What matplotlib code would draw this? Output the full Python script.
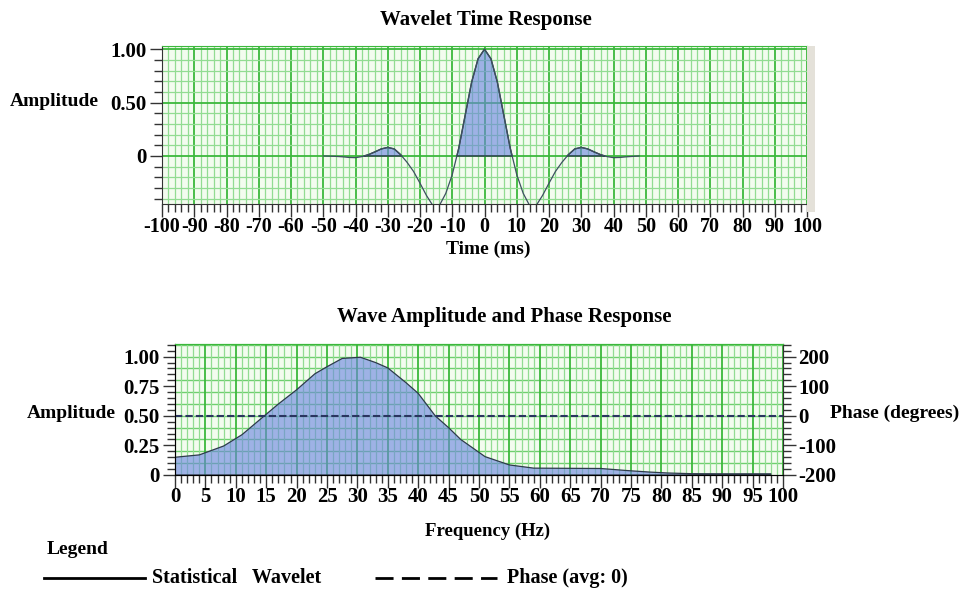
import numpy as np
import matplotlib.pyplot as plt
from matplotlib.ticker import MultipleLocator, FuncFormatter
from matplotlib.lines import Line2D
from matplotlib.patches import Rectangle

plt.rcParams['font.family'] = ['Liberation Serif', 'DejaVu Serif']
plt.rcParams['font.weight'] = 'bold'
plt.rcParams['axes.unicode_minus'] = False

# ---- wavelet time response (ms, amplitude) ----
time_ms = np.arange(-50, 50, 2)
wavelet = np.array([
    0.000, -0.002, -0.004, -0.008, -0.014, -0.016, -0.006, 0.012, 0.038, 0.066,
    0.080, 0.066, 0.012, -0.060, -0.145, -0.255, -0.370, -0.465, -0.465, -0.350,
    -0.175, 0.070, 0.380, 0.690, 0.910, 1.000, 0.910, 0.690, 0.380, 0.070,
    -0.175, -0.350, -0.465, -0.465, -0.370, -0.255, -0.145, -0.060, 0.012, 0.066,
    0.080, 0.066, 0.038, 0.012, -0.006, -0.016, -0.014, -0.008, -0.004, 0.000])

# ---- amplitude spectrum (Hz, normalised amplitude) ----
freq_hz = np.array([0, 4, 8, 11, 14, 17, 20, 23, 25, 27.5, 30.5, 33, 35, 38, 40,
                    42.8, 45, 47, 51, 55, 59, 70, 74.5, 78, 81, 85, 90, 98])
spec_amp = np.array([0.15, 0.17, 0.245, 0.34, 0.47, 0.60, 0.72, 0.855, 0.915, 0.985,
                     0.995, 0.95, 0.905, 0.78, 0.69, 0.50, 0.40, 0.30, 0.155, 0.085,
                     0.058, 0.055, 0.037, 0.025, 0.017, 0.011, 0.010, 0.010])

# ---- phase (degrees) ----
phase_freq = [0, 100]
phase_deg = [0, 0]

W, H = 963, 590
bg = '#f3fcef'
minor_c = '#92dc92'
major_c = '#3cb83c'
fill_c = (0.42, 0.52, 0.88)
edge_c = '#2e3b4a'
spine_c = '#333333'
tick_fs = 15
lab_fs = 14
title_fs = 15


def fmt_amp(v, pos):
    return '0' if abs(v) < 1e-9 else f'{v:.2f}'


def style(ax):
    ax.set_facecolor(bg)
    ax.set_axisbelow(True)
    for s in ['top', 'right']:
        ax.spines[s].set_color(major_c)
    for s in ['left', 'bottom']:
        ax.spines[s].set_color(spine_c)
    ax.tick_params(which='major', length=9, width=1, color=spine_c, labelsize=tick_fs, pad=2)
    ax.tick_params(which='minor', length=6, width=1, color=spine_c)
    ax.tick_params(axis='x', which='major', pad=0)


fig = plt.figure(figsize=(W / 100, H / 100), dpi=100)

# grey strip at the right of the top plot
fig.patches.append(Rectangle((807 / W, 1 - 212 / H), 8 / W, 166 / H,
                             transform=fig.transFigure, facecolor='#e4e1d9',
                             edgecolor='none'))

# ================= top: wavelet =================
ax1 = fig.add_axes([162 / W, 1 - 204 / H, 645 / W, 158 / H])
style(ax1)
ax1.set_xlim(-100, 100)
ax1.set_ylim(-0.45, 1.03)
ax1.xaxis.set_major_locator(MultipleLocator(10))
ax1.xaxis.set_minor_locator(MultipleLocator(2))
ax1.yaxis.set_major_locator(MultipleLocator(0.5))
ax1.yaxis.set_minor_locator(MultipleLocator(0.1))
ax1.yaxis.set_major_formatter(FuncFormatter(fmt_amp))
ax1.tick_params(axis='x', which='major', labelsize=14.5)
ax1.grid(which='minor', color=minor_c, lw=0.9)
ax1.grid(which='major', color=major_c, lw=1.3)

ax1.fill_between(time_ms, wavelet, 0, where=wavelet > 0, interpolate=True,
                 facecolor=fill_c, alpha=0.62, edgecolor='none')
ax1.fill_between(time_ms, wavelet, 0, where=wavelet > 0, interpolate=True,
                 facecolor='none', edgecolor=edge_c, lw=1.0)
ax1.plot(time_ms, wavelet, color='#3d5060', lw=0.9)

fig.text(486 / W, 1 - 20 / H, 'Wavelet Time Response', ha='center', va='center', fontsize=title_fs)
fig.text(10 / W, 1 - 102 / H, 'Amplitude', ha='left', va='center', fontsize=lab_fs)
fig.text(488 / W, 1 - 249 / H, 'Time (ms)', ha='center', va='center', fontsize=lab_fs)

# ================= bottom: spectrum + phase =================
ax2 = fig.add_axes([175 / W, 1 - 475 / H, 608 / W, 131 / H])
style(ax2)
ax2.set_xlim(0, 100)
ax2.set_ylim(0, 1.107)
ax2.xaxis.set_major_locator(MultipleLocator(5))
ax2.xaxis.set_minor_locator(MultipleLocator(1))
ax2.yaxis.set_major_locator(MultipleLocator(0.25))
ax2.yaxis.set_minor_locator(MultipleLocator(0.05))
ax2.yaxis.set_major_formatter(FuncFormatter(fmt_amp))
ax2.grid(axis='x', which='minor', color=minor_c, lw=0.9)
ax2.grid(axis='x', which='major', color=major_c, lw=1.3)
for yv in np.arange(0.1, 1.11, 0.1):
    ax2.axhline(yv, color='#6fcf6f', lw=1.0, zorder=0.5)

ax2.fill_between(freq_hz, spec_amp, 0, facecolor=fill_c, alpha=0.62, edgecolor='none')
ax2.fill_between(freq_hz, spec_amp, 0, facecolor='none', edgecolor=edge_c, lw=0.9)

ax3 = ax2.twinx()
ax3.set_ylim(-200, 242.8)
ax3.yaxis.set_major_locator(MultipleLocator(100))
ax3.yaxis.set_minor_locator(MultipleLocator(20))
ax3.yaxis.set_major_formatter(FuncFormatter(lambda v, p: f'{int(round(v))}'))
ax3.tick_params(which='major', length=9, width=1, color=spine_c, labelsize=tick_fs, pad=2)
ax3.tick_params(which='minor', length=6, width=1, color=spine_c)
ax3.spines['right'].set_color(spine_c)
ax3.spines['top'].set_color(major_c)
ax3.plot(phase_freq, phase_deg, color='#2a3560', lw=1.5, dashes=(3.5, 1.5))

fig.text(504 / W, 1 - 317 / H, 'Wave Amplitude and Phase Response', ha='center', va='center', fontsize=title_fs)
fig.text(27 / W, 1 - 414 / H, 'Amplitude', ha='left', va='center', fontsize=lab_fs)
fig.text(830 / W, 1 - 413 / H, 'Phase (degrees)', ha='left', va='center', fontsize=lab_fs)
fig.text(488 / W, 1 - 531 / H, 'Frequency (Hz)', ha='center', va='center', fontsize=13.5)

# ================= legend =================
fig.text(47 / W, 1 - 550 / H, 'Legend', ha='left', va='center', fontsize=lab_fs)
fig.add_artist(Line2D([44 / W, 145 / W], [1 - 578 / H] * 2, color='black', lw=2))
fig.text(152 / W, 1 - 578 / H, 'Statistical   Wavelet', ha='left', va='center', fontsize=14.5)
fig.add_artist(Line2D([375 / W, 497 / W], [1 - 578 / H] * 2, color='black', lw=2,
                      dashes=(6.5, 3)))
fig.text(507 / W, 1 - 578 / H, 'Phase (avg: 0)', ha='left', va='center', fontsize=14.5)

fig.savefig('out.png', dpi=100)
